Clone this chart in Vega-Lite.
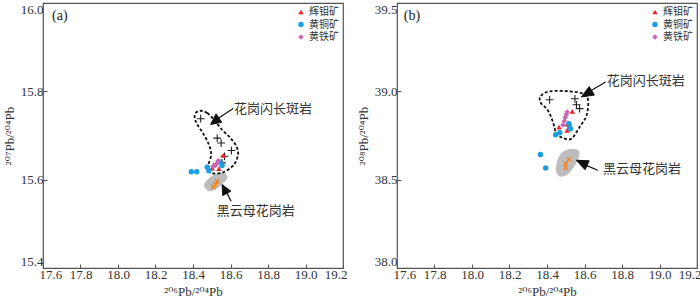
{
  "$schema": "https://vega.github.io/schema/vega-lite/v6.json",
  "padding": {"left": 2, "top": 1, "right": 0, "bottom": 0},
  "background": "white",
  "datasets": {
    "minA": [
      {"m": "辉钼矿", "x": 18.561, "y": 15.655}, {"m": "辉钼矿", "x": 18.511, "y": 15.634}, {"m": "辉钼矿", "x": 18.538, "y": 15.625}, {"m": "辉钼矿", "x": 18.502, "y": 15.626},
      {"m": "黄铜矿", "x": 18.391, "y": 15.618}, {"m": "黄铜矿", "x": 18.420, "y": 15.618}, {"m": "黄铜矿", "x": 18.476, "y": 15.628}, {"m": "黄铜矿", "x": 18.485, "y": 15.620}, {"m": "黄铜矿", "x": 18.543, "y": 15.640}, {"m": "黄铜矿", "x": 18.555, "y": 15.632},
      {"m": "黄铁矿", "x": 18.529, "y": 15.638}, {"m": "黄铁矿", "x": 18.520, "y": 15.632}, {"m": "黄铁矿", "x": 18.534, "y": 15.643}, {"m": "黄铁矿", "x": 18.506, "y": 15.630}
    ],
    "plusA": [
      {"x": 18.441, "y": 15.738}, {"x": 18.529, "y": 15.694}, {"x": 18.55, "y": 15.683}, {"x": 18.605, "y": 15.666}, {"x": 18.568, "y": 15.653}, {"x": 18.555, "y": 15.638}
    ],
    "crossA": [
      {"x": 18.520, "y": 15.589}, {"x": 18.529, "y": 15.596}, {"x": 18.509, "y": 15.584}
    ],
    "outlineA": [
      {"i": 1, "x": 18.441, "y": 15.756}, {"i": 2, "x": 18.476, "y": 15.751}, {"i": 3, "x": 18.511, "y": 15.736}, {"i": 4, "x": 18.555, "y": 15.713},
      {"i": 5, "x": 18.600, "y": 15.694}, {"i": 6, "x": 18.632, "y": 15.675}, {"i": 7, "x": 18.640, "y": 15.657}, {"i": 8, "x": 18.618, "y": 15.634},
      {"i": 9, "x": 18.564, "y": 15.617}, {"i": 10, "x": 18.511, "y": 15.614}, {"i": 11, "x": 18.485, "y": 15.619}, {"i": 12, "x": 18.480, "y": 15.630},
      {"i": 13, "x": 18.497, "y": 15.657}, {"i": 14, "x": 18.485, "y": 15.679}, {"i": 15, "x": 18.458, "y": 15.702}, {"i": 16, "x": 18.423, "y": 15.725},
      {"i": 17, "x": 18.409, "y": 15.740}, {"i": 18, "x": 18.414, "y": 15.751}
    ],
    "blobA": [
      {"i": 1, "x": 18.485, "y": 15.602}, {"i": 2, "x": 18.522, "y": 15.611}, {"i": 3, "x": 18.565, "y": 15.614}, {"i": 4, "x": 18.582, "y": 15.605},
      {"i": 5, "x": 18.555, "y": 15.591}, {"i": 6, "x": 18.511, "y": 15.577}, {"i": 7, "x": 18.478, "y": 15.576}, {"i": 8, "x": 18.462, "y": 15.589}
    ],
    "shaftA": [
      {"x": 18.615, "y": 15.761, "x2": 18.52, "y2": 15.735},
      {"x": 18.603, "y": 15.551, "x2": 18.575, "y2": 15.575}
    ],
    "headA": [
      {"id": 1, "i": 1, "x": 18.494, "y": 15.725}, {"id": 1, "i": 2, "x": 18.553, "y": 15.730}, {"id": 1, "i": 3, "x": 18.523, "y": 15.749},
      {"id": 2, "i": 1, "x": 18.555, "y": 15.589}, {"id": 2, "i": 2, "x": 18.602, "y": 15.574}, {"id": 2, "i": 3, "x": 18.559, "y": 15.564}
    ],
    "textA": [
      {"t": "花岗闪长斑岩", "x": 18.618, "y": 15.761},
      {"t": "黑云母花岗岩", "x": 18.527, "y": 15.530}
    ],
    "tagA": [{"t": "(a)", "x": 17.648, "y": 15.971}],
    "minB": [
      {"m": "辉钼矿", "x": 18.535, "y": 38.887}, {"m": "辉钼矿", "x": 18.464, "y": 38.798}, {"m": "辉钼矿", "x": 18.507, "y": 38.779}, {"m": "辉钼矿", "x": 18.51, "y": 38.815},
      {"m": "黄铜矿", "x": 18.365, "y": 38.643}, {"m": "黄铜矿", "x": 18.393, "y": 38.566}, {"m": "黄铜矿", "x": 18.446, "y": 38.754}, {"m": "黄铜矿", "x": 18.468, "y": 38.766}, {"m": "黄铜矿", "x": 18.517, "y": 38.817}, {"m": "黄铜矿", "x": 18.525, "y": 38.788},
      {"m": "黄铁矿", "x": 18.485, "y": 38.81}, {"m": "黄铁矿", "x": 18.492, "y": 38.832}, {"m": "黄铁矿", "x": 18.497, "y": 38.852}, {"m": "黄铁矿", "x": 18.503, "y": 38.869}, {"m": "黄铁矿", "x": 18.508, "y": 38.883}
    ],
    "plusB": [
      {"x": 18.414, "y": 38.952}, {"x": 18.549, "y": 38.958}, {"x": 18.557, "y": 38.924}, {"x": 18.574, "y": 38.902}, {"x": 18.512, "y": 38.808}
    ],
    "crossB": [
      {"x": 18.517, "y": 38.615}, {"x": 18.5, "y": 38.590}, {"x": 18.5, "y": 38.568}
    ],
    "outlineB": [
      {"i": 1, "x": 18.414, "y": 39.000}, {"i": 2, "x": 18.521, "y": 39.000}, {"i": 3, "x": 18.593, "y": 38.986}, {"i": 4, "x": 18.619, "y": 38.949},
      {"i": 5, "x": 18.611, "y": 38.864}, {"i": 6, "x": 18.574, "y": 38.798}, {"i": 7, "x": 18.530, "y": 38.732}, {"i": 8, "x": 18.485, "y": 38.736},
      {"i": 9, "x": 18.450, "y": 38.760}, {"i": 10, "x": 18.432, "y": 38.826}, {"i": 11, "x": 18.405, "y": 38.892}, {"i": 12, "x": 18.370, "y": 38.930},
      {"i": 13, "x": 18.361, "y": 38.958}, {"i": 14, "x": 18.370, "y": 38.977}
    ],
    "blobB": [
      {"i": 1, "x": 18.485, "y": 38.656}, {"i": 2, "x": 18.539, "y": 38.672}, {"i": 3, "x": 18.571, "y": 38.656}, {"i": 4, "x": 18.557, "y": 38.600},
      {"i": 5, "x": 18.512, "y": 38.534}, {"i": 6, "x": 18.468, "y": 38.521}, {"i": 7, "x": 18.450, "y": 38.553}, {"i": 8, "x": 18.459, "y": 38.610}
    ],
    "shaftB": [
      {"x": 18.713, "y": 39.053, "x2": 18.62, "y2": 38.995},
      {"x": 18.671, "y": 38.553, "x2": 18.6, "y2": 38.585}
    ],
    "headB": [
      {"id": 1, "i": 1, "x": 18.583, "y": 38.968}, {"id": 1, "i": 2, "x": 18.653, "y": 38.979}, {"id": 1, "i": 3, "x": 18.625, "y": 39.027},
      {"id": 2, "i": 1, "x": 18.556, "y": 38.610}, {"id": 2, "i": 2, "x": 18.603, "y": 38.556}, {"id": 2, "i": 3, "x": 18.625, "y": 38.607}
    ],
    "textB": [
      {"t": "花岗闪长斑岩", "x": 18.718, "y": 39.057},
      {"t": "黑云母花岗岩", "x": 18.699, "y": 38.562}
    ],
    "tagB": [{"t": "(b)", "x": 17.636, "y": 39.426}]
  },
  "hconcat": [
    {
      "width": 300,
      "height": 265,
      "encoding": {
        "x": {"field": "x", "type": "quantitative", "scale": {"domain": [17.6, 19.2], "nice": false, "zero": false},
              "axis": {"values": [17.6, 17.8, 18.0, 18.2, 18.4, 18.6, 18.8, 19.0, 19.2], "format": ".1f", "title": "²⁰⁶Pb/²⁰⁴Pb", "labelFlush": true, "labelFlushOffset": 4}},
        "y": {"field": "y", "type": "quantitative", "scale": {"domain": [15.4, 16.0], "nice": false, "zero": false},
              "axis": {"values": [15.4, 15.6, 15.8, 16.0], "format": ".1f", "title": "²⁰⁷Pb/²⁰⁴Pb", "labelFlush": true}}
      },
      "layer": [
        {"data": {"name": "blobA"}, "mark": {"type": "line", "interpolate": "cardinal-closed", "fill": "#bdbdbd", "stroke": "#bdbdbd", "strokeWidth": 1}, "encoding": {"order": {"field": "i", "type": "quantitative"}}},
        {"data": {"name": "crossA"}, "mark": {"type": "point", "shape": "M-1,-1L1,1M-1,1L1,-1", "size": 20, "stroke": "#f07f1e", "strokeWidth": 1.2, "filled": false, "opacity": 1}},
        {"data": {"name": "outlineA"}, "mark": {"type": "line", "interpolate": "cardinal-closed", "stroke": "#111", "strokeWidth": 1.8, "strokeDash": [3, 2]}, "encoding": {"order": {"field": "i", "type": "quantitative"}}},
        {"data": {"name": "plusA"}, "mark": {"type": "point", "shape": "M-1,0H1M0,-1V1", "size": 60, "stroke": "#222", "strokeWidth": 1.1, "filled": false, "opacity": 1}},
        {"data": {"name": "minA"}, "mark": {"type": "point", "filled": true, "opacity": 1, "size": 30},
          "encoding": {
            "color": {"field": "m", "type": "nominal", "scale": {"domain": ["辉钼矿", "黄铜矿", "黄铁矿"], "range": ["#e8262c", "#1b9de2", "#c867b2"]},
                      "legend": {"title": null, "orient": "top-right", "offset": 4, "padding": 0, "labelFont": "Noto Sans CJK SC", "labelFontSize": 10, "labelColor": "#333", "symbolSize": 30, "rowPadding": 2.5, "labelOffset": 3, "symbolStrokeWidth": 0}},
            "shape": {"field": "m", "type": "nominal", "scale": {"domain": ["辉钼矿", "黄铜矿", "黄铁矿"], "range": ["triangle-up", "circle", "diamond"]}}
          }},
        {"data": {"name": "shaftA"}, "mark": {"type": "rule", "stroke": "#111", "strokeWidth": 1.2}, "encoding": {"x2": {"field": "x2"}, "y2": {"field": "y2"}}},
        {"data": {"name": "headA"}, "mark": {"type": "line", "interpolate": "linear-closed", "fill": "#111", "stroke": "#111", "strokeWidth": 1}, "encoding": {"detail": {"field": "id", "type": "nominal"}, "order": {"field": "i", "type": "quantitative"}}},
        {"data": {"name": "textA"}, "mark": {"type": "text", "align": "left", "baseline": "middle", "font": "Noto Sans CJK SC", "fontSize": 13, "fill": "#333"}, "encoding": {"text": {"field": "t"}}},
        {"data": {"name": "tagA"}, "mark": {"type": "text", "align": "left", "baseline": "middle", "font": "Liberation Serif", "fontSize": 14, "fill": "#222"}, "encoding": {"text": {"field": "t"}}}
      ]
    },
    {
      "width": 300,
      "height": 265,
      "encoding": {
        "x": {"field": "x", "type": "quantitative", "scale": {"domain": [17.6, 19.2], "nice": false, "zero": false},
              "axis": {"values": [17.6, 17.8, 18.0, 18.2, 18.4, 18.6, 18.8, 19.0, 19.2], "format": ".1f", "title": "²⁰⁶Pb/²⁰⁴Pb", "labelFlush": true, "labelFlushOffset": 4}},
        "y": {"field": "y", "type": "quantitative", "scale": {"domain": [38.0, 39.5], "nice": false, "zero": false},
              "axis": {"values": [38.0, 38.5, 39.0, 39.5], "format": ".1f", "title": "²⁰⁸Pb/²⁰⁴Pb", "labelFlush": true}}
      },
      "layer": [
        {"data": {"name": "blobB"}, "mark": {"type": "line", "interpolate": "cardinal-closed", "fill": "#bdbdbd", "stroke": "#bdbdbd", "strokeWidth": 1}, "encoding": {"order": {"field": "i", "type": "quantitative"}}},
        {"data": {"name": "crossB"}, "mark": {"type": "point", "shape": "M-1,-1L1,1M-1,1L1,-1", "size": 20, "stroke": "#f07f1e", "strokeWidth": 1.2, "filled": false, "opacity": 1}},
        {"data": {"name": "outlineB"}, "mark": {"type": "line", "interpolate": "cardinal-closed", "stroke": "#111", "strokeWidth": 1.8, "strokeDash": [3, 2]}, "encoding": {"order": {"field": "i", "type": "quantitative"}}},
        {"data": {"name": "plusB"}, "mark": {"type": "point", "shape": "M-1,0H1M0,-1V1", "size": 60, "stroke": "#222", "strokeWidth": 1.1, "filled": false, "opacity": 1}},
        {"data": {"name": "minB"}, "mark": {"type": "point", "filled": true, "opacity": 1, "size": 30},
          "encoding": {
            "color": {"field": "m", "type": "nominal", "scale": {"domain": ["辉钼矿", "黄铜矿", "黄铁矿"], "range": ["#e8262c", "#1b9de2", "#c867b2"]},
                      "legend": {"title": null, "orient": "top-right", "offset": 4, "padding": 0, "labelFont": "Noto Sans CJK SC", "labelFontSize": 10, "labelColor": "#333", "symbolSize": 30, "rowPadding": 2.5, "labelOffset": 3, "symbolStrokeWidth": 0}},
            "shape": {"field": "m", "type": "nominal", "scale": {"domain": ["辉钼矿", "黄铜矿", "黄铁矿"], "range": ["triangle-up", "circle", "diamond"]}}
          }},
        {"data": {"name": "shaftB"}, "mark": {"type": "rule", "stroke": "#111", "strokeWidth": 1.2}, "encoding": {"x2": {"field": "x2"}, "y2": {"field": "y2"}}},
        {"data": {"name": "headB"}, "mark": {"type": "line", "interpolate": "linear-closed", "fill": "#111", "stroke": "#111", "strokeWidth": 1}, "encoding": {"detail": {"field": "id", "type": "nominal"}, "order": {"field": "i", "type": "quantitative"}}},
        {"data": {"name": "textB"}, "mark": {"type": "text", "align": "left", "baseline": "middle", "font": "Noto Sans CJK SC", "fontSize": 13, "fill": "#333"}, "encoding": {"text": {"field": "t"}}},
        {"data": {"name": "tagB"}, "mark": {"type": "text", "align": "left", "baseline": "middle", "font": "Liberation Serif", "fontSize": 14, "fill": "#222"}, "encoding": {"text": {"field": "t"}}}
      ]
    }
  ],
  "spacing": 54,
  "bounds": "flush",
  "resolve": {"scale": {"color": "independent", "shape": "independent"}, "legend": {"color": "independent", "shape": "independent"}},
  "config": {
    "view": {"stroke": "#555", "strokeWidth": 1.2},
    "axis": {
      "domain": false,
      "grid": false,
      "ticks": true,
      "tickSize": -4,
      "tickColor": "#555",
      "tickWidth": 1,
      "labelFont": "Liberation Serif",
      "labelFontSize": 13,
      "labelColor": "#333",
      "labelPadding": 4,
      "titleFont": "Liberation Serif, DejaVu Serif",
      "titleFontSize": 13,
      "titleFontWeight": "normal",
      "titleColor": "#333",
      "titlePadding": 4
    }
  }
}
